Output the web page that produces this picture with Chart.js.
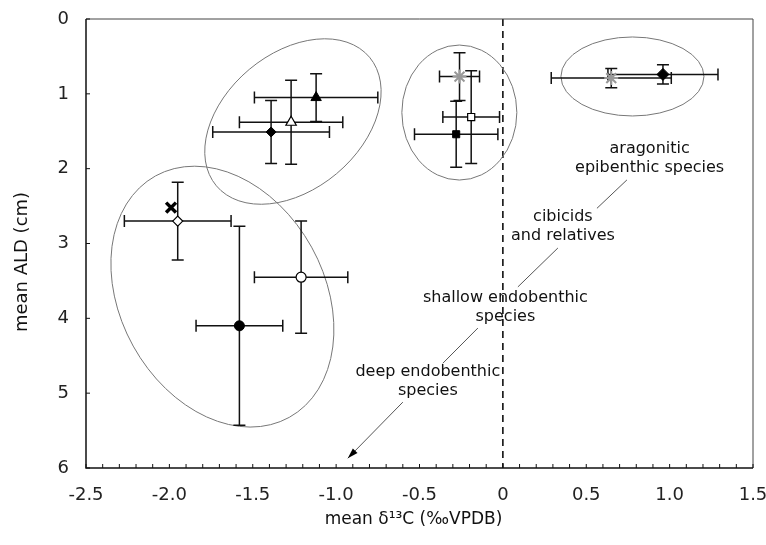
<!DOCTYPE html>
<html>
<head>
<meta charset="utf-8">
<script src="https://cdn.jsdelivr.net/npm/chart.js@4"></script>
<style>
  html, body { margin: 0; padding: 0; background: #fff; }
  #wrap { width: 766px; height: 545px; }
</style>
</head>
<body>
<div id="wrap"><canvas id="grafico" width="766" height="545"></canvas></div>
<script>
// valores
const d13C    = [-1.12, -1.27, -1.39, -1.99, -1.95, -1.58, -1.21, -0.26, -0.28, -0.19, 0.65, 0.96];
const ald     = [ 1.05,  1.38,  1.51,  2.52,  2.70,  4.10,  3.45,  0.77,  1.54,  1.31, 0.79, 0.74];
const d13CErr = [ 0.37,  0.31,  0.35,  0,     0.32,  0.26,  0.28,  0.12,  0.25,  0.17, 0.36, 0.33];
const aldErr  = [ 0.32,  0.56,  0.42,  0,     0.52,  1.33,  0.75,  0.32,  0.44,  0.62, 0.13, 0.13];

const xTickValues = [-2.5, -2.0, -1.5, -1.0, -0.5, 0, 0.5, 1.0, 1.5];
const xTickLabels = ['-2.5', '-2.0', '-1.5', '-1.0', '-0.5', '0', '0.5', '1.0', '1.5'];
const yTickValues = [0, 1, 2, 3, 4, 5, 6];
const yTickLabels = ['0', '1', '2', '3', '4', '5', '6'];

const notes = [
  { lines: ['aragonitic', 'epibenthic species'], x: 0.88, y: 1.73 },
  { lines: ['cibicids', 'and relatives'], x: 0.36, y: 2.65 },
  { lines: ['shallow endobenthic', 'species'], x: 0.015, y: 3.72 },
  { lines: ['deep endobenthic', 'species'], x: -0.45, y: 4.72 }
];
const leaders = [
  [0.744, 2.15, 0.564, 2.53],
  [0.33, 3.06, 0.09, 3.58],
  [-0.15, 4.13, -0.36, 4.60],
  [-0.60, 5.12, -0.93, 5.87]
];
// elipses: centro en datos, semiejes en px, giro en grados
const groups = [
  { x: -1.259, y: 1.37, a: 100, b: 68, rot: -40 },
  { x: -1.682, y: 3.71, a: 138, b: 102, rot: 61 },
  { x: -0.261, y: 1.25, a: 57.5, b: 67.5, rot: 0 },
  { x: 0.777, y: 0.768, a: 71.5, b: 39.5, rot: 0 }
];

const estilos = ['triangle', 'triangle', 'rectRot', 'crossRot', 'rectRot', 'circle', 'circle', 'star', 'rect', 'rect', 'star', 'rectRot'];
const rellenos = ['#000', '#fff', '#000', '#000', '#fff', '#000', '#fff', '#fff', '#000', '#fff', '#fff', '#000'];
const bordes = ['#000', '#000', '#000', '#000', '#000', '#000', '#000', '#999', '#000', '#000', '#999', '#000'];
const radios = [6, 6, 5, 7, 5, 5, 5, 7, 5, 5, 7, 6];
const grosor = [1, 1.2, 1, 3.5, 1.2, 1, 1.2, 2, 1, 1.2, 2, 1];

const fuente = 'DejaVu Sans';

const dibujo = {
  id: 'dibujo',
  beforeDatasetsDraw(chart) {
    const { ctx, chartArea: a, scales: { x, y } } = chart;
    ctx.save();
    // linea de cero
    ctx.strokeStyle = '#000';
    ctx.lineWidth = 1.5;
    ctx.setLineDash([7, 5]);
    ctx.beginPath();
    ctx.moveTo(x.getPixelForValue(0), a.top);
    ctx.lineTo(x.getPixelForValue(0), a.bottom);
    ctx.stroke();
    ctx.setLineDash([]);

    // elipses
    ctx.strokeStyle = '#777';
    ctx.lineWidth = 1;
    groups.forEach(g => {
      ctx.beginPath();
      ctx.ellipse(x.getPixelForValue(g.x), y.getPixelForValue(g.y), g.a, g.b, g.rot * Math.PI / 180, 0, Math.PI * 2);
      ctx.stroke();
    });

    // barras de error
    ctx.strokeStyle = '#111';
    ctx.lineWidth = 1.5;
    d13C.forEach((v, i) => {
      const px = x.getPixelForValue(v), py = y.getPixelForValue(ald[i]);
      if (d13CErr[i] > 0) {
        const x0 = x.getPixelForValue(v - d13CErr[i]), x1 = x.getPixelForValue(v + d13CErr[i]);
        ctx.beginPath();
        ctx.moveTo(x0, py); ctx.lineTo(x1, py);
        ctx.moveTo(x0, py - 6); ctx.lineTo(x0, py + 6);
        ctx.moveTo(x1, py - 6); ctx.lineTo(x1, py + 6);
        ctx.stroke();
      }
      if (aldErr[i] > 0) {
        const y0 = y.getPixelForValue(ald[i] - aldErr[i]), y1 = y.getPixelForValue(ald[i] + aldErr[i]);
        ctx.beginPath();
        ctx.moveTo(px, y0); ctx.lineTo(px, y1);
        ctx.moveTo(px - 6, y0); ctx.lineTo(px + 6, y0);
        ctx.moveTo(px - 6, y1); ctx.lineTo(px + 6, y1);
        ctx.stroke();
      }
    });

    // textos y flechas
    ctx.fillStyle = '#111';
    ctx.font = '16px "' + fuente + '"';
    ctx.textAlign = 'center';
    ctx.textBaseline = 'middle';
    notes.forEach(n => {
      const px = x.getPixelForValue(n.x), py = y.getPixelForValue(n.y);
      n.lines.forEach((t, k) => ctx.fillText(t, px, py + k * 19));
    });
    ctx.strokeStyle = '#555';
    ctx.lineWidth = 1;
    leaders.forEach((s, k) => {
      const x0 = x.getPixelForValue(s[0]), y0 = y.getPixelForValue(s[1]);
      const x1 = x.getPixelForValue(s[2]), y1 = y.getPixelForValue(s[3]);
      ctx.beginPath();
      ctx.moveTo(x0, y0); ctx.lineTo(x1, y1);
      ctx.stroke();
      if (k === leaders.length - 1) {
        const ang = Math.atan2(y1 - y0, x1 - x0);
        ctx.fillStyle = '#000';
        ctx.beginPath();
        ctx.moveTo(x1, y1);
        ctx.lineTo(x1 - 11 * Math.cos(ang - 0.3), y1 - 11 * Math.sin(ang - 0.3));
        ctx.lineTo(x1 - 11 * Math.cos(ang + 0.3), y1 - 11 * Math.sin(ang + 0.3));
        ctx.closePath();
        ctx.fill();
      }
    });

    // marco y ticks hacia dentro
    ctx.strokeStyle = '#444';
    ctx.lineWidth = 1;
    ctx.beginPath();
    ctx.moveTo(a.left, a.top); ctx.lineTo(a.right, a.top); ctx.lineTo(a.right, a.bottom);
    ctx.stroke();
    ctx.strokeStyle = '#111';
    ctx.lineWidth = 1.5;
    ctx.beginPath();
    ctx.moveTo(a.left, a.top); ctx.lineTo(a.left, a.bottom); ctx.lineTo(a.right, a.bottom);
    ctx.stroke();
    ctx.lineWidth = 1;
    ctx.beginPath();
    for (let k = -25; k <= 15; k++) {
      const px = x.getPixelForValue(k / 10);
      ctx.moveTo(px, a.bottom); ctx.lineTo(px, a.bottom - 4);
    }
    yTickValues.forEach(v => {
      const py = y.getPixelForValue(v);
      ctx.moveTo(a.left, py); ctx.lineTo(a.left + 4, py);
    });
    ctx.stroke();

    // titulos de ejes
    ctx.fillStyle = '#111';
    ctx.font = '17px "' + fuente + '"';
    ctx.textAlign = 'center';
    ctx.fillText('mean δ¹³C (‰VPDB)', (a.left + a.right) / 2 - 6, 520);
    ctx.save();
    ctx.translate(22, 262);
    ctx.rotate(-Math.PI / 2);
    ctx.font = '18px "' + fuente + '"';
    ctx.fillText('mean ALD (cm)', 0, 0);
    ctx.restore();
    ctx.restore();
  }
};

const etiqueta = (valores, textos) => v => {
  const i = valores.findIndex(t => Math.abs(t - v) < 1e-6);
  return i >= 0 ? textos[i] : '';
};

new Chart(document.getElementById('grafico'), {
  type: 'scatter',
  data: {
    datasets: [{
      data: d13C.map((v, i) => ({ x: v, y: ald[i] })),
      pointStyle: estilos,
      pointRadius: radios,
      pointHoverRadius: radios,
      pointBackgroundColor: rellenos,
      pointBorderColor: bordes,
      pointBorderWidth: grosor
    }]
  },
  options: {
    responsive: false,
    animation: false,
    layout: { padding: { top: 19, right: 13, left: 0, bottom: 0 } },
    plugins: { legend: { display: false }, tooltip: { enabled: false } },
    scales: {
      x: {
        type: 'linear', min: -2.5, max: 1.5,
        grid: { display: false }, border: { display: false },
        afterFit: s => { s.height = 77; s.paddingLeft = 0; s.paddingRight = 0; },
        ticks: {
          stepSize: 0.5, padding: 9, color: '#222',
          font: { family: fuente, size: 18 },
          callback: etiqueta(xTickValues, xTickLabels)
        }
      },
      y: {
        type: 'linear', min: 0, max: 6, reverse: true,
        grid: { display: false }, border: { display: false },
        afterFit: s => { s.width = 86; s.paddingTop = 0; s.paddingBottom = 0; },
        ticks: {
          stepSize: 1, padding: 9, color: '#222',
          font: { family: fuente, size: 18 },
          callback: etiqueta(yTickValues, yTickLabels)
        }
      }
    }
  },
  plugins: [dibujo]
});
</script>
</body>
</html>
